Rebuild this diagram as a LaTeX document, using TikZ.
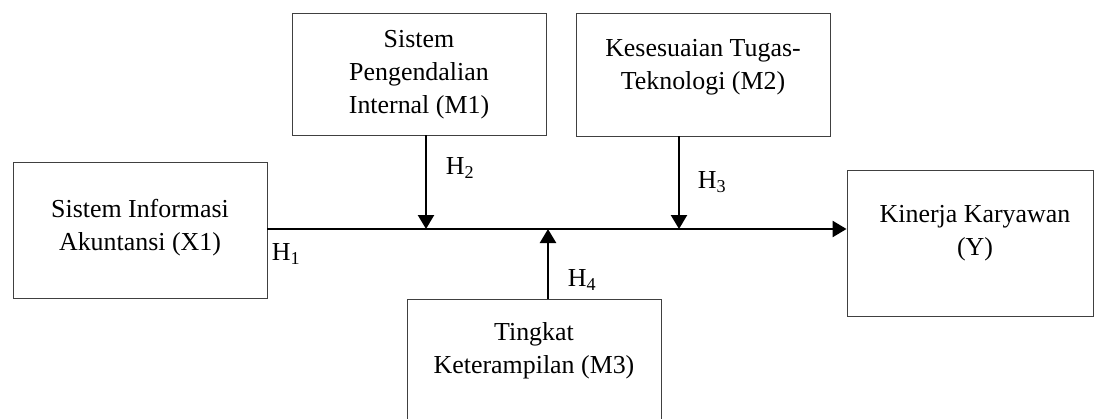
\documentclass[tikz,border=0pt]{standalone}
\usepackage{fontspec}
\setmainfont{Liberation Serif}
\usetikzlibrary{arrows.meta}

\tikzset{
	kotak/.style={draw=black!75, line width=0.9bp, minimum width=254bp, inner sep=0pt},
	teks/.style={align=center, font=\fontsize{26}{33}\selectfont, inner sep=0pt},
	panah/.style={line width=2.4bp, -{Triangle[length=14bp, width=16bp]}},
}

\begin{document}
\begin{tikzpicture}[x=1bp, y=-1bp]

	\useasboundingbox (0,0) rectangle (1096,418);

	% kotak variabel
	\node[kotak, minimum height=136bp] (x1) at (140,230) {};
	\node[kotak, minimum height=122bp] (m1) at (419,74) {};
	\node[kotak, minimum height=123bp] (m2) at (703,74.5) {};
	\node[kotak, minimum width=246bp, minimum height=146bp] (y1) at (970,243) {};
	\node[kotak, minimum height=140bp] (m3) at (534,369) {};

	\node[teks] (x1t) at (140,228) {Sistem Informasi\\Akuntansi (X1)};
	\node[teks] (m1t) at (419,75) {Sistem\\Pengendalian\\Internal (M1)};
	\node[teks] (m2t) at (703,67) {Kesesuaian Tugas-\\Teknologi (M2)};
	\node[teks] (y1t) at (975,233) {Kinerja Karyawan\\(Y)};
	\node[teks] (m3t) at (534,351) {Tingkat\\Keterampilan (M3)};

	% titik temu
	\coordinate (a) at (x1.east |- 0,229);
	\coordinate (b) at (y1.west |- 0,229);
	\coordinate (j2) at (426,229);
	\coordinate (j3) at (679,229);
	\coordinate (j4) at (548,229);

	\draw[panah] (a) -- (b);
	\draw[panah] (j2 |- m1.south) -- (j2);
	\draw[panah] (j3 |- m2.south) -- (j3);
	\draw[panah] (j4 |- m3.north) -- (j4);

	\node[teks] (h1) at (286,254) {H\textsubscript{1}};
	\node[teks] (h2) at (460,168) {H\textsubscript{2}};
	\node[teks] (h3) at (712,182) {H\textsubscript{3}};
	\node[teks] (h4) at (582,280) {H\textsubscript{4}};

\end{tikzpicture}
\end{document}
